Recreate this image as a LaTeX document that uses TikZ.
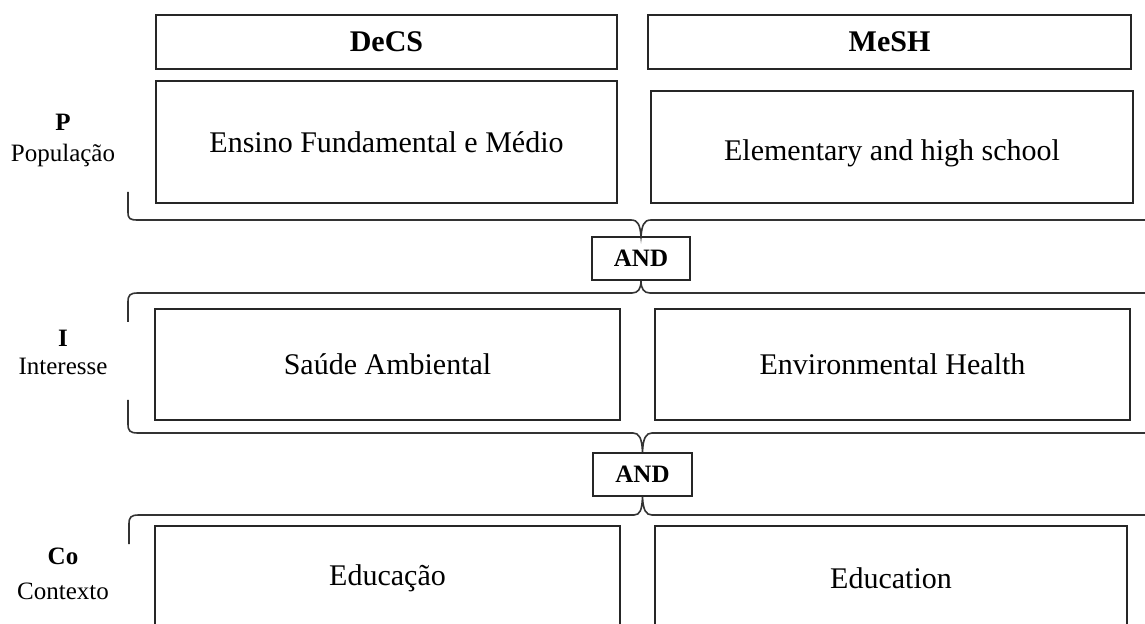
\documentclass[tikz,border=0pt]{standalone}
\usepackage{fontspec}
\setmainfont{Liberation Serif}
\begin{document}
\begin{tikzpicture}[x=0.5pt,y=-0.5pt,
  box/.style={draw=black!85, line width=0.8pt, inner sep=0pt, font=\fontsize{15}{18}\selectfont},
  hdr/.style={box, font=\fontsize{15}{18}\selectfont\bfseries},
  andbox/.style={draw=black!85, line width=0.8pt, inner sep=0pt, font=\fontsize{12.5}{15}\selectfont\bfseries},
  rowlbl/.style={align=center, inner sep=0pt, font=\fontsize{12.5}{15.5}\selectfont},
  brace/.style={draw=black!80, line width=0.8pt}]
\useasboundingbox (0,0) rectangle (1145,624);
\clip (0,0) rectangle (1145,624);
% headers
\node[hdr, minimum width=230.5pt, minimum height=27pt] (decs) at (386.5,42) {DeCS};
\node[hdr, minimum width=241.5pt, minimum height=27pt] (mesh) at (889.5,42) {MeSH};
% P row
\node[box, minimum width=230.5pt, minimum height=61pt] (p1) at (386.5,142) {Ensino Fundamental e Médio};
\node[box, minimum width=241pt, minimum height=56pt,
  label={[yshift=-3pt, inner sep=0pt, font=\fontsize{15}{18}\selectfont]center:Elementary and high school}] (p2) at (892,147) {};
% I row
\node[box, minimum width=232.5pt, minimum height=55.5pt] (i1) at (387.5,364.5) {Saúde Ambiental};
\node[box, minimum width=237.5pt, minimum height=55.5pt] (i2) at (892.5,364.5) {Environmental Health};
% Co row
\node[box, minimum width=232.5pt, minimum height=52pt] (c1) at (387.5,578) {Educação};
\node[box, minimum width=236pt, minimum height=52pt] (c2) at (891,578) {Education};
% AND boxes
\node[andbox, minimum width=49pt, minimum height=21.5pt] (and1) at (641,258.5) {AND};
\node[andbox, minimum width=49.5pt, minimum height=21.5pt] (and2) at (642.5,474.5) {AND};
% row labels
\node[rowlbl] (lp) at (63,140) {\textbf{P}\\População};
\node[rowlbl] (li) at (63,352) {\textbf{I}\\[-1.5pt]Interesse};
\node[rowlbl] (lc) at (63,574) {\textbf{Co}\\[2pt]Contexto};
% brace coordinates
\coordinate (b1l) at (128,192);
\coordinate (b1r) at (1160,220);
\coordinate (b2l) at (128,322);
\coordinate (b2r) at (1160,293);
\coordinate (b3l) at (128,400);
\coordinate (b3r) at (1160,433);
\coordinate (b4l) at (129,544);
\coordinate (b4r) at (1160,515);
% brace under P row
\draw[brace] (b1l) -- (128,212) .. controls (128,219) and (130,220) .. (138,220)
  -- (631,220) .. controls (638,220) and (640,225) .. (and1.north)
  .. controls (642,225) and (644,220) .. (651,220) -- (b1r);
% brace above I row
\draw[brace] (b2l) -- (128,302) .. controls (128,295) and (130,293) .. (138,293)
  -- (632,293) .. controls (638,293) and (641,289) .. (and1.south)
  .. controls (641,289) and (644,293) .. (650,293) -- (b2r);
% brace under I row
\draw[brace] (b3l) -- (128,424) .. controls (128,431) and (130,433) .. (138,433)
  -- (633,433) .. controls (639,433) and (642,438) .. (and2.north)
  .. controls (643,438) and (646,433) .. (652,433) -- (b3r);
% brace above Co row
\draw[brace] (b4l) -- (129,524) .. controls (129,517) and (131,515) .. (139,515)
  -- (634,515) .. controls (640,515) and (642,510) .. (and2.south)
  .. controls (643,510) and (646,515) .. (652,515) -- (b4r);
\end{tikzpicture}
\end{document}
